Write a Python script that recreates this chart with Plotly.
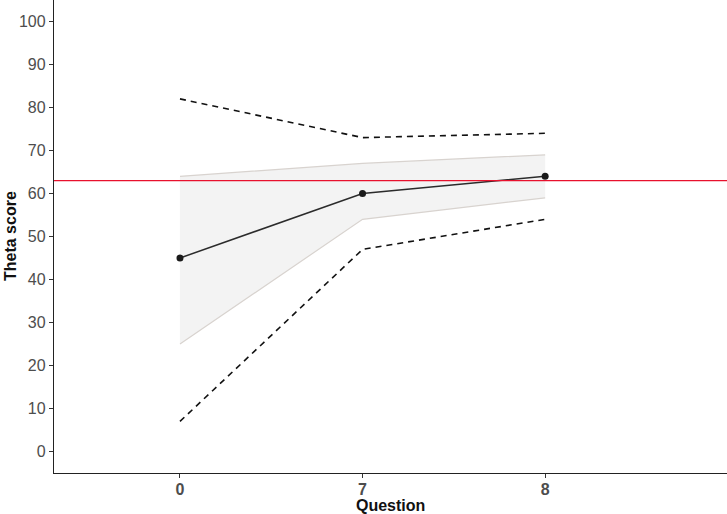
import plotly.graph_objects as go

questions = ["0", "7", "8"]
theta = [45, 60, 64]
band_low = [25, 54, 59]
band_high = [64, 67, 69]
dash_low = [7, 47, 54]
dash_high = [82, 73, 74]
ref_value = 63

xpos = list(range(len(questions)))
FONT = "Liberation Sans, Arial, sans-serif"

fig = go.Figure()
fig.add_trace(go.Scatter(x=xpos, y=band_low, mode="lines",
                         line=dict(color="#d8d3cf", width=1.2), showlegend=False, hoverinfo="skip"))
fig.add_trace(go.Scatter(x=xpos, y=band_high, mode="lines", fill="tonexty",
                         fillcolor="rgba(235,235,235,0.6)",
                         line=dict(color="#d8d3cf", width=1.2), showlegend=False, hoverinfo="skip"))
fig.add_trace(go.Scatter(x=xpos, y=dash_high, mode="lines",
                         line=dict(color="#111111", width=1.6, dash="6px,5px"), showlegend=False))
fig.add_trace(go.Scatter(x=xpos, y=dash_low, mode="lines",
                         line=dict(color="#111111", width=1.6, dash="6px,5px"), showlegend=False))
fig.add_hline(y=ref_value, line=dict(color="#e8112d", width=1.2))
fig.add_trace(go.Scatter(x=xpos, y=theta, mode="lines+markers",
                         line=dict(color="#2b2b2b", width=1.5),
                         marker=dict(color="#1a1a1a", size=7), showlegend=False))

fig.update_layout(
    width=727, height=514,
    margin=dict(l=54, r=0, t=0, b=41),
    paper_bgcolor="#ffffff", plot_bgcolor="#ffffff",
    font=dict(family=FONT, color="#4d4d4d"),
    xaxis=dict(
        range=[-0.69, 2.996], tickvals=xpos, ticktext=questions, automargin=False,
        showgrid=False, zeroline=False, showline=True, linecolor="#222222", linewidth=1.3,
        ticks="outside", ticklen=4, tickcolor="#333333", ticklabelstandoff=-2,
        tickfont=dict(size=16, color="#4d4d4d", family=FONT, weight="bold"),
    ),
    yaxis=dict(
        range=[-5, 105], tickvals=list(range(0, 101, 10)), automargin=False,
        showgrid=False, zeroline=False, showline=True, linecolor="#222222", linewidth=1.3,
        ticks="outside", ticklen=4, tickcolor="#333333",
        tickfont=dict(size=16, color="#4d4d4d"),
    ),
    annotations=[
        dict(text="<b>Question</b>", xref="paper", yref="paper", x=0.5, y=-43/473,
             yanchor="bottom", xanchor="center", showarrow=False,
             font=dict(size=16, color="#111111", family=FONT)),
        dict(text="<b>Theta score</b>", xref="paper", yref="paper", x=-54/673, y=0.5,
             xanchor="left", yanchor="middle", textangle=-90, showarrow=False,
             font=dict(size=16, color="#111111", family=FONT)),
    ],
)

fig.write_html("out.html", config={"displayModeBar": False},
               post_script="document.body.style.margin='0';")
